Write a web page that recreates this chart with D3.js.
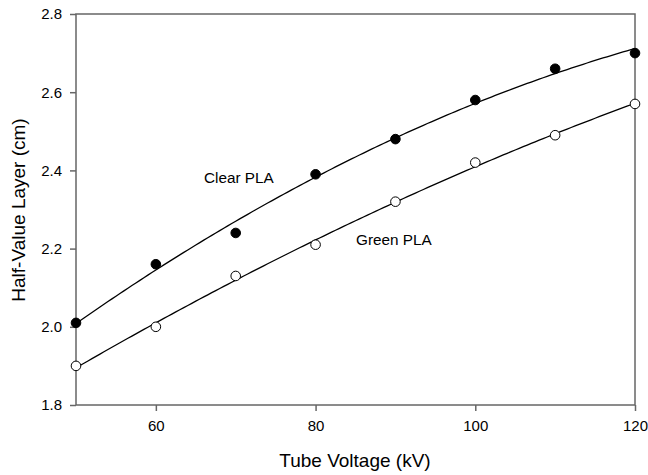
<!DOCTYPE html>
<html>
<head>
<meta charset="utf-8">
<script src="https://cdn.jsdelivr.net/npm/d3@7"></script>
<style>
  body { margin: 0; background: #fff; }
  svg { font-family: Arial, "Liberation Sans", sans-serif; }
</style>
</head>
<body>
<svg id="chart"></svg>
<script>
const voltages = [50, 60, 70, 80, 90, 100, 110, 120];
const clearPLA = [2.01, 2.16, 2.24, 2.39, 2.48, 2.58, 2.66, 2.70];
const greenPLA = [1.90, 2.00, 2.13, 2.21, 2.32, 2.42, 2.49, 2.57];
const xTicks = [60, 80, 100, 120];
const yTicks = [1.8, 2.0, 2.2, 2.4, 2.6, 2.8];

const W = 648, H = 475;
const margin = { top: 14, right: 13, bottom: 70, left: 76 },
      width = W - margin.left - margin.right,
      height = H - margin.top - margin.bottom;

const svg = d3.select("#chart")
    .attr("width", W)
    .attr("height", H)
    .append("g")
    .attr("transform", `translate(${margin.left},${margin.top})`);

const x = d3.scaleLinear().domain([50, 120]).range([0, width]);
const y = d3.scaleLinear().domain([1.8, 2.8]).range([height, 0]);

// quadratic least-squares fit, same as the regression line on the original
function quadFit(xs, ys) {
    let s = [0, 0, 0, 0, 0], t = [0, 0, 0];
    xs.forEach((xv, i) => {
        for (let k = 0; k < 5; k++) s[k] += Math.pow(xv, k);
        for (let k = 0; k < 3; k++) t[k] += ys[i] * Math.pow(xv, k);
    });
    const m = [[s[0], s[1], s[2], t[0]], [s[1], s[2], s[3], t[1]], [s[2], s[3], s[4], t[2]]];
    for (let i = 0; i < 3; i++) {
        for (let j = i + 1; j < 3; j++) {
            const f = m[j][i] / m[i][i];
            for (let k = i; k < 4; k++) m[j][k] -= f * m[i][k];
        }
    }
    const c = [0, 0, 0];
    for (let i = 2; i >= 0; i--) {
        let v = m[i][3];
        for (let k = i + 1; k < 3; k++) v -= m[i][k] * c[k];
        c[i] = v / m[i][i];
    }
    return xv => c[0] + c[1] * xv + c[2] * xv * xv;
}

const axisColor = "#666";

// frame
svg.append("rect")
    .attr("x", 0).attr("y", 0)
    .attr("width", width).attr("height", height)
    .attr("fill", "none")
    .attr("stroke", axisColor)
    .attr("stroke-width", 1.5);

const xAxis = svg.append("g")
    .attr("transform", `translate(0,${height})`)
    .call(d3.axisBottom(x).tickValues(xTicks).tickSize(6).tickPadding(9).tickFormat(d3.format("d")));
const yAxis = svg.append("g")
    .call(d3.axisLeft(y).tickValues(yTicks).tickSize(6).tickPadding(8).tickFormat(d3.format(".1f")));

[xAxis, yAxis].forEach(a => {
    a.select(".domain").remove();
    a.selectAll("line").attr("stroke", axisColor).attr("stroke-width", 1.5);
    a.selectAll("text")
        .style("font-family", "Arial, 'Liberation Sans', sans-serif")
        .style("font-size", "15px")
        .attr("fill", "#000");
});

const series = [
    { name: "Clear PLA", values: clearPLA, fill: "#000", lx: 204, ly: 183 },
    { name: "Green PLA", values: greenPLA, fill: "#fff", lx: 356, ly: 245 }
];

const fine = d3.range(50, 120.01, 0.5);

series.forEach(s => {
    const f = quadFit(voltages, s.values);
    svg.append("path")
        .datum(fine)
        .attr("fill", "none")
        .attr("stroke", "#000")
        .attr("stroke-width", 1.3)
        .attr("d", d3.line().x(d => x(d)).y(d => y(f(d))));

    svg.selectAll(null)
        .data(voltages.map((v, i) => ({ v, val: s.values[i] })))
        .enter().append("circle")
        .attr("cx", d => x(d.v))
        .attr("cy", d => y(d.val))
        .attr("r", 4.8)
        .attr("fill", s.fill)
        .attr("stroke", "#000")
        .attr("stroke-width", 1);

    svg.append("text")
        .attr("x", s.lx - margin.left)
        .attr("y", s.ly - margin.top)
        .style("font-size", "15.3px")
        .text(s.name);
});

svg.append("text")
    .attr("x", 355 - margin.left)
    .attr("y", height + 62)
    .attr("text-anchor", "middle")
    .style("font-size", "19px")
    .text("Tube Voltage (kV)");

svg.append("text")
    .attr("transform", `translate(${-51},${210 - margin.top}) rotate(-90)`)
    .attr("text-anchor", "middle")
    .style("font-size", "19px")
    .text("Half-Value Layer (cm)");
</script>
</body>
</html>
